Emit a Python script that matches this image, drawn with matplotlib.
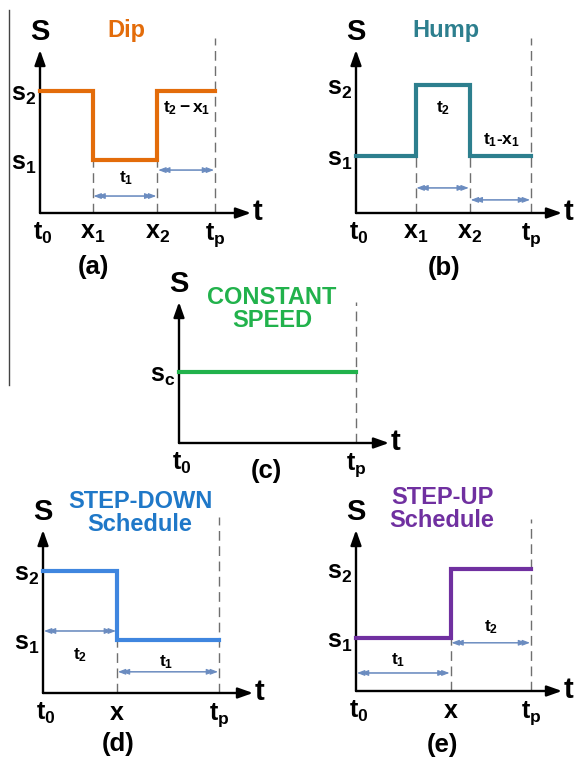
import matplotlib
matplotlib.use("Agg")
import matplotlib.pyplot as plt
from matplotlib.lines import Line2D

plt.rcParams["font.family"] = ["Liberation Sans", "DejaVu Sans"]
plt.rcParams["mathtext.fontset"] = "custom"
plt.rcParams["mathtext.rm"] = "Liberation Sans"
plt.rcParams["mathtext.bf"] = "Liberation Sans:bold"
plt.rcParams["mathtext.it"] = "Liberation Sans:italic"

# speed schedules: breakpoints (t0 ... tp) and speed levels (s1 = 1)
DIP_T = [0.0, 0.30, 0.67, 1.0]
DIP_S = [2.3, 1.0, 2.3, 2.3]
HUMP_T = [0.0, 0.34, 0.65, 1.0]
HUMP_S = [1.0, 2.25, 1.0, 1.0]
CONST_T = [0.0, 1.0]
CONST_S = [1.0, 1.0]
DOWN_T = [0.0, 0.42, 1.0]
DOWN_S = [2.3, 1.0, 1.0]
UP_T = [0.0, 0.54, 1.0]
UP_S = [1.0, 2.3, 2.3]

DIP_XLABELS = [r"$\mathbf{t_0}$", r"$\mathbf{x_1}$", r"$\mathbf{x_2}$", r"$\mathbf{t_p}$"]
HUMP_XLABELS = DIP_XLABELS
CONST_XLABELS = [r"$\mathbf{t_0}$", r"$\mathbf{t_p}$"]
STEP_XLABELS = [r"$\mathbf{t_0}$", r"$\mathbf{x}$", r"$\mathbf{t_p}$"]
S12_LABELS = [r"$\mathbf{s_1}$", r"$\mathbf{s_2}$"]
SC_LABELS = [r"$\mathbf{s_c}$"]

W, H = 576, 763
fig = plt.figure(figsize=(W / 100, H / 100), dpi=100)

INTERVAL_COLOR = "#6b8cc0"
LABEL_SIZE = 18


def frac(x, y):
    return x / W, 1 - y / H


def make_panel(x0, y_axis, x_end, y_top, tp_px, s1_px):
    """Axes whose origin sits on the drawn axis corner; tp = 1, s1 = 1."""
    l, b = frac(x0, y_axis)
    ax = fig.add_axes([l, b, (x_end - x0) / W, (y_axis - y_top) / H])
    ax.set_xlim(0, (x_end - x0) / (tp_px - x0))
    ax.set_ylim(0, (y_axis - y_top) / (y_axis - s1_px))
    ax.axis("off")
    style = "-|>,head_length=0.9,head_width=0.32"
    ax.annotate("", xy=(1, 0), xytext=(0, 0), xycoords="axes fraction",
                arrowprops=dict(arrowstyle=style, lw=1.7, color="black",
                                shrinkA=0, shrinkB=0))
    ax.annotate("", xy=(0, 1), xytext=(0, 0), xycoords="axes fraction",
                arrowprops=dict(arrowstyle=style, lw=1.7, color="black",
                                shrinkA=0, shrinkB=0))
    ax.annotate("S", (0, 1), xycoords="axes fraction", xytext=(0, 18),
                textcoords="offset pixels", ha="center", va="center",
                fontsize=21, fontweight="bold", annotation_clip=False)
    ax.annotate("t", (1, 0), xycoords="axes fraction", xytext=(2, 1),
                textcoords="offset pixels", ha="left", va="center",
                fontsize=21, fontweight="bold", annotation_clip=False)
    return ax


def draw_schedule(ax, ts, ss, color):
    ax.plot(ts, ss, drawstyle="steps-post", color=color, lw=3.0,
            solid_joinstyle="miter", clip_on=False, zorder=3)


def guides(ax, xs, tops):
    for x, top in zip(xs, tops):
        ax.plot([x, x], [0, top], color="#6f6f6f", lw=1.0,
                dashes=(7, 4), clip_on=False, zorder=1)


def interval(ax, a, b, y):
    # thin span with doubled arrowheads at both ends
    dx = 0.022
    for k in (0, 1):
        ax.annotate("", xy=(b - k * dx - 0.006, y), xytext=(a + k * dx + 0.006, y),
                    arrowprops=dict(arrowstyle="<|-|>,head_length=0.45,head_width=0.17",
                                    lw=0.8, color=INTERVAL_COLOR, shrinkA=0, shrinkB=0),
                    annotation_clip=False)


def small(ax, x, y, s):
    ax.text(x, y, s, ha="center", va="center", fontsize=12.5, fontweight="bold",
            clip_on=False)


def xlabels(ax, ts, labels, dy=-20):
    for t, lab in zip(ts, labels):
        off = dy - 2 if "t_p" in lab else dy
        ax.annotate(lab, (t, 0), xytext=(3 if t == 0 else 0, off),
                    textcoords="offset pixels", ha="center", va="center",
                    fontsize=LABEL_SIZE, annotation_clip=False)


def ylabels(ax, levels, labels):
    for s, lab in zip(levels, labels):
        ax.annotate(lab, (0, s), xytext=(-4, -4), textcoords="offset pixels",
                    ha="right", va="center", fontsize=LABEL_SIZE,
                    annotation_clip=False)


def title(x, y, s, color):
    fig.text(*frac(x, y), s, ha="center", va="center", fontsize=17,
             fontweight="bold", color=color, linespacing=1.05)


def tag(x, y, s):
    fig.text(*frac(x, y), s, ha="center", va="center", fontsize=18.5,
             fontweight="bold")


# (a) Dip
ax = make_panel(40, 213, 251, 50, 215, 160)
c = "#e36c0a"
draw_schedule(ax, DIP_T, DIP_S, c)
guides(ax, DIP_T[1:], [min(DIP_S), min(DIP_S), 3.3])
interval(ax, DIP_T[1], DIP_T[2], 0.32)
interval(ax, DIP_T[2], DIP_T[3], 0.81)
small(ax, 0.49, 0.66, r"$\mathbf{t_1}$")
small(ax, 0.84, 1.98, r"$\mathbf{t_2 - x_1}$")
xlabels(ax, DIP_T, DIP_XLABELS)
ylabels(ax, [min(DIP_S), max(DIP_S)], S12_LABELS)
title(126, 30, "Dip", c)
tag(93, 267, "(a)")

# (b) Hump
ax = make_panel(356, 213, 562, 50, 531, 156)
c = "#2d7f8e"
draw_schedule(ax, HUMP_T, HUMP_S, c)
guides(ax, HUMP_T[1:], [min(HUMP_S), min(HUMP_S), 3.07])
interval(ax, HUMP_T[1], HUMP_T[2], 0.44)
interval(ax, HUMP_T[2], HUMP_T[3], 0.23)
small(ax, 0.50, 1.84, r"$\mathbf{t_2}$")
small(ax, 0.83, 1.28, r"$\mathbf{t_1}$-$\mathbf{x_1}$")
xlabels(ax, HUMP_T, HUMP_XLABELS)
ylabels(ax, [min(HUMP_S), max(HUMP_S)], S12_LABELS)
title(446, 30, "Hump", c)
tag(444, 268, "(b)")

# (c) Constant speed
ax = make_panel(179, 443, 389, 302, 356, 372)
c = "#22b24c"
draw_schedule(ax, CONST_T, CONST_S, c)
guides(ax, CONST_T[1:], [1.99])
xlabels(ax, CONST_T, CONST_XLABELS)
ylabels(ax, CONST_S[:1], SC_LABELS)
title(272, 309, "CONSTANT\nSPEED", c)
tag(266, 471, "(c)")

# (d) Step-down schedule
ax = make_panel(43, 693, 253, 530, 219, 640)
c = "#3f86df"
draw_schedule(ax, DOWN_T, DOWN_S, c)
guides(ax, DOWN_T[1:], [min(DOWN_S), 3.32])
interval(ax, DOWN_T[0], DOWN_T[1], 1.17)
interval(ax, DOWN_T[1], DOWN_T[2], 0.40)
small(ax, 0.21, 0.72, r"$\mathbf{t_2}$")
small(ax, 0.70, 0.58, r"$\mathbf{t_1}$")
xlabels(ax, DOWN_T, STEP_XLABELS)
ylabels(ax, [min(DOWN_S), max(DOWN_S)], S12_LABELS)
title(140, 513, "STEP-DOWN\nSchedule", "#1f78c8")
tag(118, 744, "(d)")

# (e) Step-up schedule
ax = make_panel(356, 691, 562, 530, 531, 638)
c = "#7030a0"
draw_schedule(ax, UP_T, UP_S, c)
guides(ax, UP_T[1:], [min(UP_S), 3.25])
interval(ax, UP_T[0], UP_T[1], 0.34)
interval(ax, UP_T[1], UP_T[2], 0.91)
small(ax, 0.24, 0.58, r"$\mathbf{t_1}$")
small(ax, 0.77, 1.21, r"$\mathbf{t_2}$")
xlabels(ax, UP_T, STEP_XLABELS)
ylabels(ax, [min(UP_S), max(UP_S)], S12_LABELS)
title(442, 509, "STEP-UP\nSchedule", c)
tag(442, 745, "(e)")

# thin rule along the left margin
fig.add_artist(Line2D([9 / W, 9 / W], [1 - 10 / H, 1 - 385 / H],
                      color="#444444", lw=1.0))

fig.savefig("out.png", dpi=100)
